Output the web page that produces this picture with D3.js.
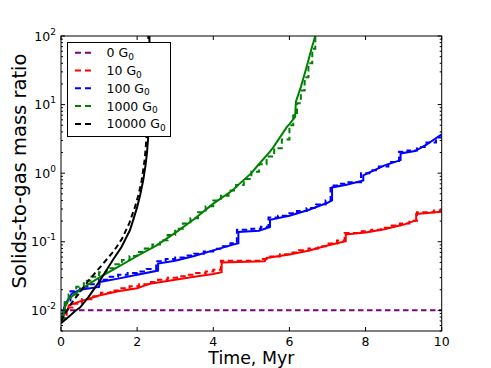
<!DOCTYPE html>
<html><head><meta charset="utf-8">
<script src="https://cdn.jsdelivr.net/npm/d3@7"></script>
<style>body{margin:0;background:#fff;} svg{display:block;font-family:"DejaVu Sans",sans-serif;}</style>
</head><body><svg id="c" width="491" height="368"></svg>
<script>
// ---- data ----
const xTicks = [0, 2, 4, 6, 8, 10];
const yTickExps = [-2, -1, 0, 1, 2];
const legendLabels = ["0 G", "10 G", "100 G", "1000 G", "10000 G"];
const colors = ["#800080", "#ff0000", "#0000ff", "#008000", "#000000"];

const purpleDashed = [[0, 0.01], [10, 0.01]];

const redSolid = [[0,0.007],[0.1,0.009],[0.2,0.0105],[0.2,0.0118],[0.5,0.0135],[1.0,0.0165],[1.5,0.019],[2.0,0.021],[2.34,0.0245],[3.0,0.028],[3.5,0.031],[4.0,0.034],[4.22,0.036],[4.22,0.050],[5.35,0.052],[5.4,0.058],[6.0,0.065],[6.5,0.074],[7.0,0.088],[7.48,0.102],[7.48,0.128],[8.0,0.136],[8.5,0.152],[9.0,0.178],[9.33,0.205],[9.33,0.255],[10,0.275]];
const redDashed = [[0,0.0075],[0.15,0.011],[0.3,0.0125],[0.55,0.0145],[0.8,0.016],[1.05,0.018],[1.3,0.0195],[1.55,0.021],[1.8,0.0225],[2.05,0.024],[2.3,0.026],[2.55,0.028],[2.8,0.030],[3.05,0.0315],[3.3,0.033],[3.55,0.035],[3.8,0.037],[4.0,0.039],[4.2,0.053],[5.3,0.056],[5.5,0.061],[5.75,0.066],[6.0,0.070],[6.25,0.075],[6.5,0.080],[6.75,0.086],[7.0,0.094],[7.25,0.104],[7.45,0.134],[7.9,0.142],[8.15,0.15],[8.4,0.16],[8.65,0.172],[8.9,0.185],[9.15,0.203],[9.35,0.27],[9.8,0.285],[10,0.29]];

const blueSolid = [[0,0.007],[0.1,0.012],[0.28,0.0175],[0.5,0.02],[1.0,0.022],[1.02,0.026],[1.5,0.029],[2.0,0.033],[2.55,0.038],[2.55,0.048],[3.0,0.053],[3.5,0.062],[4.0,0.075],[4.5,0.09],[4.66,0.095],[4.66,0.139],[5.2,0.145],[5.49,0.164],[5.49,0.209],[6.0,0.24],[6.5,0.29],[7.0,0.37],[7.12,0.40],[7.12,0.62],[7.5,0.68],[7.94,0.78],[7.94,0.93],[8.5,1.3],[8.92,1.55],[8.92,1.94],[9.3,2.1],[9.6,2.6],[10,3.7]];
const blueDashed = [[0,0.0075],[0.1,0.013],[0.25,0.019],[0.5,0.022],[0.75,0.024],[1.0,0.028],[1.25,0.031],[1.5,0.033],[1.75,0.035],[2.0,0.037],[2.25,0.040],[2.5,0.052],[2.75,0.056],[3.0,0.059],[3.25,0.063],[3.5,0.067],[3.75,0.072],[4.0,0.079],[4.25,0.086],[4.45,0.095],[4.62,0.15],[5.0,0.155],[5.25,0.165],[5.45,0.225],[5.7,0.24],[5.95,0.26],[6.2,0.28],[6.45,0.31],[6.7,0.35],[6.95,0.40],[7.08,0.66],[7.3,0.70],[7.55,0.74],[7.88,1.0],[8.1,1.1],[8.35,1.25],[8.6,1.45],[8.88,2.05],[9.1,2.15],[9.35,2.4],[9.6,2.8],[9.85,3.3],[10,4.0]];

const greenSolid = [[0,0.0065],[0.1,0.011],[0.2,0.0145],[0.5,0.02],[1.0,0.030],[1.5,0.043],[2.0,0.062],[2.5,0.088],[3.0,0.135],[3.5,0.215],[4.0,0.36],[4.5,0.56],[4.7,0.71],[5.0,1.0],[5.14,1.24],[5.5,2.1],[5.58,2.4],[5.93,4.7],[6.0,5.2],[6.15,6.6],[6.17,11],[6.3,18],[6.45,35],[6.58,65],[6.68,100],[6.7,120]];
const greenDashed = [[0,0.0075],[0.1,0.013],[0.2,0.017],[0.4,0.022],[0.6,0.027],[0.8,0.031],[1.0,0.036],[1.2,0.041],[1.4,0.047],[1.6,0.054],[1.8,0.062],[2.0,0.071],[2.2,0.080],[2.4,0.091],[2.6,0.105],[2.8,0.125],[3.0,0.155],[3.2,0.185],[3.4,0.22],[3.6,0.27],[3.8,0.33],[4.0,0.40],[4.2,0.47],[4.4,0.56],[4.6,0.67],[4.8,0.82],[5.0,1.05],[5.2,1.35],[5.4,1.75],[5.6,2.3],[5.8,3.1],[6.0,5.0],[6.1,7.0],[6.2,10.5],[6.3,16],[6.4,25],[6.5,40],[6.6,65],[6.68,110]];

const blackSolid = [[0,0.0065],[0.25,0.0085],[0.37,0.0098],[0.5,0.011],[0.72,0.0156],[1.0,0.026],[1.16,0.036],[1.37,0.055],[1.59,0.084],[1.81,0.147],[1.9,0.21],[2.0,0.32],[2.08,0.48],[2.16,0.79],[2.22,1.3],[2.26,2.0],[2.29,3.4],[2.31,8],[2.32,30],[2.325,120]];
const blackDashed = [[0,0.007],[0.2,0.011],[0.37,0.015],[0.55,0.02],[0.72,0.027],[0.95,0.038],[1.16,0.052],[1.4,0.075],[1.6,0.11],[1.8,0.19],[1.95,0.33],[2.05,0.52],[2.12,0.79],[2.2,1.6],[2.25,3.5],[2.28,15],[2.295,120]];

const curves = [
  {data: purpleDashed, c: 0, dash: true},
  {data: redSolid, c: 1, dash: false},
  {data: redDashed, c: 1, dash: true, step: true},
  {data: blueSolid, c: 2, dash: false},
  {data: blueDashed, c: 2, dash: true, step: true},
  {data: greenSolid, c: 3, dash: false},
  {data: greenDashed, c: 3, dash: true, step: true},
  {data: blackSolid, c: 4, dash: false},
  {data: blackDashed, c: 4, dash: true}
];

// ---- layout ----
const L = 61, R = 441.7, T = 36, B = 331;
const svg = d3.select("#c");
const x = d3.scaleLinear().domain([0, 10]).range([L, R]);
const y = d3.scaleLog().domain([0.005, 100]).range([B, T]);

svg.append("defs").append("clipPath").attr("id", "clip")
  .append("rect").attr("x", L).attr("y", T).attr("width", R - L).attr("height", B - T);

const g = svg.append("g").attr("clip-path", "url(#clip)");
const dashArr = "5.5,3.5";
curves.forEach(s => {
  const line = d3.line().x(d => x(d[0])).y(d => y(d[1]))
    .curve(s.step ? d3.curveStepAfter : d3.curveLinear);
  g.append("path").attr("d", line(s.data)).attr("fill", "none")
    .attr("stroke", colors[s.c]).attr("stroke-width", 2)
    .attr("stroke-dasharray", s.dash ? dashArr : null);
});

// frame
svg.append("rect").attr("x", L).attr("y", T).attr("width", R - L).attr("height", B - T)
  .attr("fill", "none").attr("stroke", "#000").attr("stroke-width", 1);

// x ticks
const axg = svg.append("g");
xTicks.forEach(t => {
  const px = x(t);
  axg.append("line").attr("x1", px).attr("x2", px).attr("y1", B).attr("y2", B - 4).attr("stroke", "#000");
  axg.append("line").attr("x1", px).attr("x2", px).attr("y1", T).attr("y2", T + 4).attr("stroke", "#000");
  axg.append("text").attr("x", px).attr("y", 345.5).attr("text-anchor", "middle")
    .attr("font-size", 12.5).text(t);
});
// y ticks
const minor = [];
for (let e = -3; e <= 2; e++) for (let m = 2; m <= 9; m++) {
  const v = m * Math.pow(10, e);
  if (v >= 0.005 && v <= 100) minor.push(v);
}
minor.forEach(v => {
  const py = y(v);
  axg.append("line").attr("x1", L).attr("x2", L + 2).attr("y1", py).attr("y2", py).attr("stroke", "#000");
  axg.append("line").attr("x1", R).attr("x2", R - 2).attr("y1", py).attr("y2", py).attr("stroke", "#000");
});
yTickExps.forEach(e => {
  const py = y(Math.pow(10, e));
  axg.append("line").attr("x1", L).attr("x2", L + 4).attr("y1", py).attr("y2", py).attr("stroke", "#000");
  axg.append("line").attr("x1", R).attr("x2", R - 4).attr("y1", py).attr("y2", py).attr("stroke", "#000");
  const tx = axg.append("text").attr("x", 56).attr("y", py + 4.5).attr("text-anchor", "end").attr("font-size", 12.5);
  tx.append("tspan").text("10");
  tx.append("tspan").attr("dy", -6).attr("font-size", 9).text(String(e));
});

// axis labels
svg.append("text").attr("x", (L + R) / 2).attr("y", 364).attr("text-anchor", "middle")
  .attr("font-size", 17.4).text("Time, Myr");
svg.append("text").attr("transform", "translate(26," + 171 + ") rotate(-90)")
  .attr("text-anchor", "middle").attr("font-size", 19.5).text("Solids-to-gas mass ratio");

// legend
const lg = svg.append("g");
lg.append("rect").attr("x", 67.5).attr("y", 42.5).attr("width", 103).attr("height", 94)
  .attr("fill", "#fff").attr("stroke", "#000").attr("stroke-width", 1);
legendLabels.forEach((lab, i) => {
  const ly = 52.7 + i * 17.8;
  lg.append("line").attr("x1", 75).attr("x2", 92).attr("y1", ly).attr("y2", ly)
    .attr("stroke", colors[i]).attr("stroke-width", 2).attr("stroke-dasharray", "6,4");
  const t = lg.append("text").attr("x", 106.5).attr("y", ly + 4.5).attr("font-size", 12.5);
  t.append("tspan").text(lab);
  t.append("tspan").attr("dy", 2.5).attr("font-size", 9).text("0");
});
</script></body></html>
